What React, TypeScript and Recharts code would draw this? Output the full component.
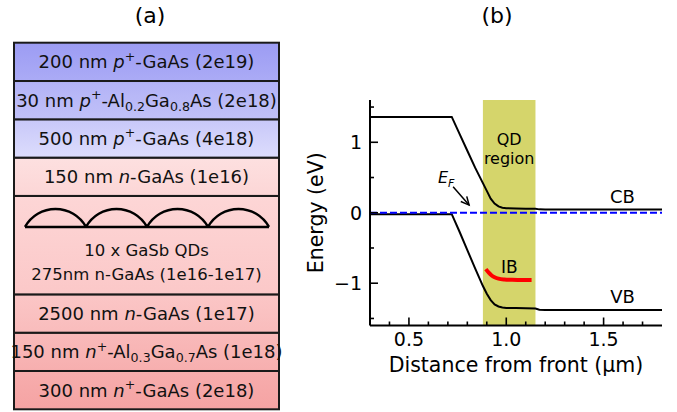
import React from 'react';
import {
  Bar,
  BarChart,
  ComposedChart,
  Line,
  ReferenceArea,
  ReferenceLine,
  Scatter,
  XAxis,
  YAxis,
} from 'recharts';

const FONT = '"DejaVu Sans", Verdana, sans-serif';

// ---- (a) layer stack, listed top to bottom ----
type Seg = [string, ('i' | 'sup' | 'sub')?];

const layerNames: Seg[][] = [
  [['200 nm '], ['p', 'i'], ['+', 'sup'], ['-GaAs (2e19)']],
  [['30 nm '], ['p', 'i'], ['+', 'sup'], ['-Al'], ['0.2', 'sub'], ['Ga'], ['0.8', 'sub'], ['As (2e18)']],
  [['500 nm '], ['p', 'i'], ['+', 'sup'], ['-GaAs (4e18)']],
  [['150 nm '], ['n', 'i'], ['-GaAs (1e16)']],
  [],
  [['2500 nm '], ['n', 'i'], ['-GaAs (1e17)']],
  [['150 nm '], ['n', 'i'], ['+', 'sup'], ['-Al'], ['0.3', 'sub'], ['Ga'], ['0.7', 'sub'], ['As (1e18)']],
  [['300 nm '], ['n', 'i'], ['+', 'sup'], ['-GaAs (2e18)']],
];
const qdLines = ['10 x GaSb QDs', '275nm n-GaAs (1e16-1e17)'];
// drawn thickness of each row (schematic, not to scale)
const rowHeights = [1, 1, 1, 1, 2.57, 1, 1, 1];
const qdRow = 4;
const qdCount = 4;

// ---- (b) band diagram ----
const distance = [0.3, 0.72, 0.76, 0.8, 0.84, 0.88, 0.9, 0.92, 0.94, 0.96, 0.98, 1.0, 1.05, 1.1, 1.15, 1.17, 1.2, 1.5, 1.8];
const cbEnergy = [1.36, 1.36, 1.12, 0.88, 0.64, 0.42, 0.31, 0.2, 0.13, 0.09, 0.072, 0.064, 0.06, 0.058, 0.056, 0.048, 0.045, 0.045, 0.045];
const vbEnergy = [-0.02, -0.02, -0.27, -0.53, -0.79, -1.04, -1.15, -1.24, -1.3, -1.33, -1.345, -1.35, -1.352, -1.355, -1.358, -1.375, -1.38, -1.38, -1.38];
const ibDistance = [0.895, 0.91, 0.925, 0.94, 0.96, 0.99, 1.03, 1.08, 1.13];
const ibEnergy = [-0.8, -0.85, -0.89, -0.915, -0.935, -0.947, -0.952, -0.955, -0.955];
const qdRegion = [0.88, 1.15];
const xTicks = [0.4, 0.5, 0.6, 0.7, 0.8, 0.9, 1.0, 1.1, 1.2, 1.3, 1.4, 1.5, 1.6, 1.7];
const yTicks = [-1.5, -1, -0.5, 0, 0.5, 1, 1.5];
const annotText = ['QD\nregion', 'CB', 'VB', 'IB', 'E_F'];
const annotX = [1.015, 1.597, 1.597, 1.016, 0.649];
const annotY = [0.96, 0.133, -1.277, -0.86, 0.42];
const efArrow = [
  { x: 0.727, y: 0.369 },
  { x: 0.809, y: 0.109 },
];

const layerFill: [string, string][] = [
  ['#9c9cf3', '#ababf6'],
  ['#b2b2f6', '#c1c1f8'],
  ['#c8c8f9', '#dcdcfc'],
  ['#fde0e0', '#fcd6d6'],
  ['#fdd6d6', '#fbc8c8'],
  ['#fbc6c6', '#f9bcbc'],
  ['#f9baba', '#f7afaf'],
  ['#f7adad', '#f5a3a3'],
];
const labelSize: Record<string, number> = { 'QD\nregion': 16, CB: 18, VB: 18, IB: 17 };

const layerKeys = rowHeights.map((_, i) => `l${i}`);
const stackRow: Record<string, any> = { name: 'stack' };
layerKeys.forEach((k, i) => (stackRow[k] = rowHeights[i]));
const totalRows = rowHeights.reduce((a, b) => a + b, 0);

const bands = distance.map((x, i) => ({ x, cb: cbEnergy[i], vb: vbEnergy[i] }));
const ibData = ibDistance.map((x, i) => ({ x, ib: ibEnergy[i] }));
const annots = annotText.map((text, i) => ({ x: annotX[i], y: annotY[i], text }));

function renderSegs(segs: Seg[], fs: number) {
  let shift = 0;
  return segs.map(([t, kind], i) => {
    const target = kind === 'sup' ? -0.42 * fs : kind === 'sub' ? 0.22 * fs : 0;
    const dy = target - shift;
    shift = target;
    const small = kind === 'sup' || kind === 'sub';
    return (
      <tspan key={i} dy={dy} fontSize={small ? fs * 0.7 : fs} fontStyle={kind === 'i' ? 'italic' : 'normal'}>
        {t}
      </tspan>
    );
  });
}

function LayerShape(props: any) {
  const { x, y, width, height, idx } = props;
  const [c0, c1] = layerFill[idx];
  const gid = `layer-grad-${idx}`;
  const cx = x + width / 2;
  let body: React.ReactNode;
  if (idx === qdRow) {
    const left = x + 11;
    const span = width - 21;
    const w = span / qdCount;
    const base = y + 31;
    const sag = 18;
    const r = (w * w) / 4 / (2 * sag) + sag / 2;
    let d = `M${left},${base} L${left + span},${base}`;
    for (let k = 0; k < qdCount; k++) {
      d += ` M${left + k * w},${base} A${r},${r} 0 0 1 ${left + (k + 1) * w},${base}`;
    }
    body = (
      <g>
        <path d={d} fill="none" stroke="#000" strokeWidth={2.5} />
        {qdLines.map((l, k) => (
          <text key={k} x={cx} y={y + 60.5 + k * 23.5} textAnchor="middle" fontSize={16.5} fill="#111">
            {l}
          </text>
        ))}
      </g>
    );
  } else {
    body = (
      <text x={cx} y={y + height / 2 + 6.5} textAnchor="middle" fontSize={18} fill="#111" style={{ whiteSpace: 'pre' }}>
        {renderSegs(layerNames[idx], 18)}
      </text>
    );
  }
  return (
    <g>
      <defs>
        <linearGradient id={gid} x1="0" y1="0" x2="0" y2="1">
          <stop offset="0" stopColor={c0} />
          <stop offset="1" stopColor={c1} />
        </linearGradient>
      </defs>
      <rect x={x} y={y} width={width} height={height} fill={`url(#${gid})`} stroke="#1a1a1a" strokeWidth={2} />
      {body}
    </g>
  );
}

const MAJOR = 8;
const MINOR = 4;
const tickLine = { stroke: '#000', strokeWidth: 1.6 };
const isHalf = (v: number) => Math.abs(v * 2 - Math.round(v * 2)) < 1e-6;
const isInt = (v: number) => Math.abs(v - Math.round(v)) < 1e-6;
const fmtY = (v: number) => (v < 0 ? '\u2212' + Math.abs(v) : String(v));

function BottomTick(p: any) {
  const { x, y, payload } = p;
  const v = payload.value;
  const major = isHalf(v);
  return (
    <g>
      <line x1={x} x2={x} y1={y} y2={y - (major ? MAJOR : MINOR)} {...tickLine} />
      {major && (
        <text x={x} y={y + 20.5} textAnchor="middle" fontSize={19} fill="#000">
          {v.toFixed(1)}
        </text>
      )}
    </g>
  );
}

function TopTick(p: any) {
  const { x, y, payload } = p;
  const major = isHalf(payload.value);
  return <line x1={x} x2={x} y1={y} y2={y + (major ? MAJOR : MINOR)} {...tickLine} />;
}

function LeftTick(p: any) {
  const { x, y, payload } = p;
  const v = payload.value;
  const major = isInt(v);
  return (
    <g>
      <line x1={x} x2={x + (major ? MAJOR : MINOR)} y1={y} y2={y} {...tickLine} />
      {major && (
        <text x={x - 8} y={y + 7} textAnchor="end" fontSize={19} fill="#000">
          {fmtY(v)}
        </text>
      )}
    </g>
  );
}

function RightTick(p: any) {
  const { x, y, payload } = p;
  const major = isInt(payload.value);
  return <line x1={x} x2={x - (major ? MAJOR : MINOR)} y1={y} y2={y} {...tickLine} />;
}

function XTitle(p: any) {
  const vb = p.viewBox ?? { x: 80, y: 325.5, width: 292, height: 60 };
  return (
    <text x={vb.x + vb.width / 2} y={vb.y + 46.5} textAnchor="middle" fontSize={20.5} fill="#000">
      Distance from front (µm)
    </text>
  );
}

function YTitle(p: any) {
  const vb = p.viewBox ?? { x: 0, y: 100, width: 80, height: 225.5 };
  const x = vb.x + vb.width - 47;
  const y = vb.y + vb.height / 2;
  return (
    <text x={x} y={y} transform={`rotate(-90, ${x}, ${y})`} textAnchor="middle" fontSize={20.5} fill="#000">
      Energy (eV)
    </text>
  );
}

function ArrowShape(p: any) {
  const { x1, y1, x2, y2 } = p;
  const dx = x2 - x1;
  const dy = y2 - y1;
  const len = Math.hypot(dx, dy) || 1;
  const ux = dx / len;
  const uy = dy / len;
  const L = 9;
  const a = (26 * Math.PI) / 180;
  const wing = (s: number) => {
    const c = Math.cos(s * a);
    const sn = Math.sin(s * a);
    const rx = ux * c - uy * sn;
    const ry = ux * sn + uy * c;
    return `${x2 - L * rx},${y2 - L * ry}`;
  };
  return (
    <g>
      <line x1={x1} y1={y1} x2={x2} y2={y2} stroke="#000" strokeWidth={1.5} />
      <polyline points={`${wing(1)} ${x2},${y2} ${wing(-1)}`} fill="none" stroke="#000" strokeWidth={1.5} />
    </g>
  );
}

function AnnotShape(p: any) {
  const { cx, cy, payload } = p;
  const t: string = payload.text;
  if (t === 'E_F') {
    return (
      <text x={cx} y={cy} fontSize={16} fontStyle="italic" fill="#000">
        <tspan>E</tspan>
        <tspan fontSize={11} dy={4}>
          F
        </tspan>
      </text>
    );
  }
  const lines = t.split('\n');
  return (
    <text x={cx} y={cy} textAnchor="middle" fontSize={labelSize[t] ?? 18} fill="#000">
      {lines.map((l, i) => (
        <tspan key={i} x={cx} dy={i === 0 ? 0 : 19}>
          {l}
        </tspan>
      ))}
    </text>
  );
}

const frame = { stroke: '#000', strokeWidth: 2 };

export default function App() {
  return (
    <div style={{ position: 'absolute', left: 0, top: 0, width: 677, height: 412, background: '#fff', fontFamily: FONT, overflow: 'hidden' }}>
      <div style={{ position: 'absolute', left: 0, top: 5, width: 300, textAlign: 'center', fontSize: 22, lineHeight: '22px' }}>(a)</div>
      <div style={{ position: 'absolute', left: 397, top: 5, width: 200, textAlign: 'center', fontSize: 22, lineHeight: '22px' }}>(b)</div>

      <div style={{ position: 'absolute', left: 0, top: 0 }}>
        <BarChart width={290} height={412} data={[stackRow]} margin={{ top: 42.7, right: 11, bottom: 2.7, left: 14 }} barCategoryGap={0} barGap={0}>
          <XAxis dataKey="name" hide />
          <YAxis type="number" domain={[0, totalRows]} hide />
          {layerKeys
            .map((k, i) => ({ k, i }))
            .reverse()
            .map(({ k, i }) => (
              <Bar key={k} dataKey={k} stackId="s" isAnimationActive={false} shape={(p: any) => <LayerShape {...p} idx={i} />} />
            ))}
        </BarChart>
      </div>

      <div style={{ position: 'absolute', left: 290, top: 0 }}>
        <ComposedChart width={387} height={412} data={bands} margin={{ top: 100, right: 15, bottom: 26.5, left: 0 }}>
          <ReferenceArea x1={qdRegion[0]} x2={qdRegion[1]} fill="#d5d56b" fillOpacity={1} stroke="none" />
          <Line dataKey="cb" type="linear" stroke="#000" strokeWidth={2} dot={false} activeDot={false} isAnimationActive={false} />
          <Line dataKey="vb" type="linear" stroke="#000" strokeWidth={2} dot={false} activeDot={false} isAnimationActive={false} />
          <Line data={ibData} dataKey="ib" type="monotone" stroke="#ff0000" strokeWidth={4} dot={false} activeDot={false} isAnimationActive={false} />
          <ReferenceLine y={0} stroke="#0000ff" strokeWidth={2} strokeDasharray="7 3" />
          <ReferenceLine segment={efArrow} shape={ArrowShape} />
          <Scatter data={annots} dataKey="y" shape={AnnotShape} isAnimationActive={false} />
          <XAxis
            dataKey="x"
            type="number"
            domain={[0.3, 1.8]}
            ticks={xTicks}
            interval={0}
            height={60}
            tickSize={0}
            tickMargin={0}
            tickLine={false}
            axisLine={frame}
            tick={BottomTick}
            label={XTitle}
          />
          <XAxis
            xAxisId="top"
            orientation="top"
            type="number"
            domain={[0.3, 1.8]}
            allowDataOverflow
            ticks={xTicks}
            interval={0}
            height={0}
            tickSize={0}
            tickMargin={0}
            tickLine={false}
            axisLine={frame}
            tick={TopTick}
          />
          <YAxis
            type="number"
            domain={[-1.6, 1.6]}
            ticks={yTicks}
            interval={0}
            width={80}
            tickSize={0}
            tickMargin={0}
            tickLine={false}
            axisLine={frame}
            tick={LeftTick}
            label={YTitle}
          />
          <YAxis
            yAxisId="right"
            orientation="right"
            type="number"
            domain={[-1.6, 1.6]}
            allowDataOverflow
            ticks={yTicks}
            interval={0}
            width={0}
            tickSize={0}
            tickMargin={0}
            tickLine={false}
            axisLine={frame}
            tick={RightTick}
          />
        </ComposedChart>
      </div>
    </div>
  );
}
